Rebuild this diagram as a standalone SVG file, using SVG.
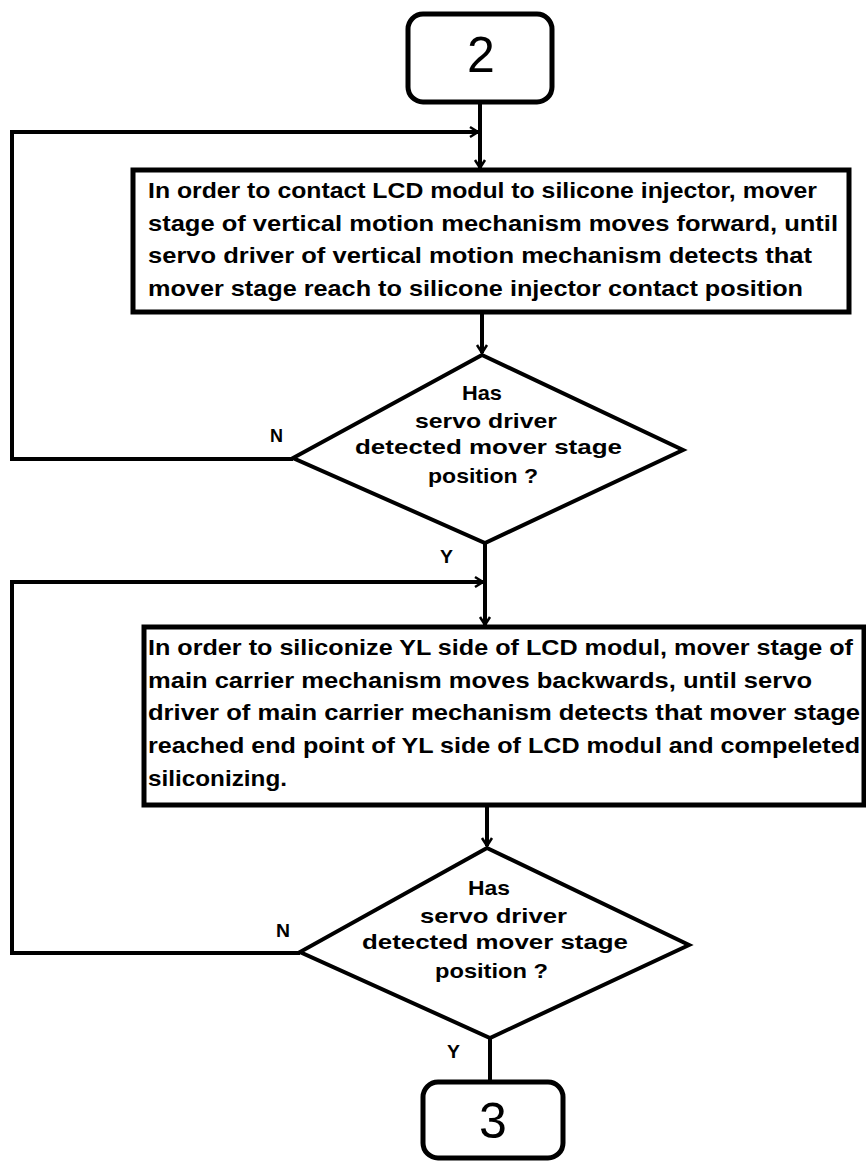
<svg xmlns="http://www.w3.org/2000/svg" width="866" height="1164" viewBox="0 0 866 1164">
<style>
.shape{fill:#fff;stroke:#000;stroke-width:5}
.dia{fill:#fff;stroke:#000;stroke-width:4;stroke-linejoin:miter}
.conn{fill:none;stroke:#000;stroke-width:4}
.t{font-family:"Liberation Sans",Arial,sans-serif;font-weight:bold;font-size:22px;fill:#000}
.d{font-family:"Liberation Sans",Arial,sans-serif;font-weight:bold;font-size:21px;fill:#000}
.lbl{font-family:"Liberation Sans",Arial,sans-serif;font-weight:bold;font-size:19px;fill:#000}
.num{font-family:"Liberation Sans",Arial,sans-serif;font-size:50px;fill:#000;text-anchor:middle}
</style>
<defs>
<marker id="arr" markerWidth="14" markerHeight="14" refX="11" refY="7" orient="auto" markerUnits="userSpaceOnUse">
<polyline points="3,2 11,7 3,12" fill="none" stroke="#000" stroke-width="2.5"/>
</marker>
</defs>
<g id="connectors">
<line class="conn" x1="480" y1="102" x2="480" y2="168" marker-end="url(#arr)"/>
<polyline class="conn" points="293,459 12,459 12,132 478,132" marker-end="url(#arr)"/>
<line class="conn" x1="482" y1="312" x2="482" y2="353" marker-end="url(#arr)"/>
<line class="conn" x1="485" y1="543" x2="485" y2="625" marker-end="url(#arr)"/>
<polyline class="conn" points="300,953 12,953 12,582 483,582" marker-end="url(#arr)"/>
<line class="conn" x1="487" y1="805" x2="487" y2="846" marker-end="url(#arr)"/>
<line class="conn" x1="490" y1="1038" x2="490" y2="1082"/>
</g>
<g id="start2">
<rect class="shape" x="408" y="14" width="144" height="88" rx="15"/>
<text class="num" x="481" y="72">2</text>
</g>
<g id="box1">
<rect class="shape" x="133" y="170" width="716" height="142"/>
<text class="t" x="148" y="198" textLength="669" lengthAdjust="spacingAndGlyphs">In order to contact LCD modul to silicone injector, mover</text>
<text class="t" x="148" y="231" textLength="690" lengthAdjust="spacingAndGlyphs">stage of vertical motion mechanism moves forward, until</text>
<text class="t" x="148" y="263" textLength="664" lengthAdjust="spacingAndGlyphs">servo driver of vertical motion mechanism detects that</text>
<text class="t" x="148" y="296" textLength="655" lengthAdjust="spacingAndGlyphs">mover stage reach to silicone injector contact position</text>
</g>
<g id="decision1">
<polygon class="dia" points="482,355 683,450 485,543 293,458"/>
<text class="d" x="462" y="400" textLength="40" lengthAdjust="spacingAndGlyphs">Has</text>
<text class="d" x="415" y="428" textLength="142" lengthAdjust="spacingAndGlyphs">servo driver</text>
<text class="d" x="355" y="454" textLength="267" lengthAdjust="spacingAndGlyphs">detected mover stage</text>
<text class="d" x="428" y="483" textLength="110" lengthAdjust="spacingAndGlyphs">position ?</text>
<text class="lbl" x="270" y="442" textLength="13" lengthAdjust="spacingAndGlyphs">N</text>
<text class="lbl" x="440" y="563" textLength="13" lengthAdjust="spacingAndGlyphs">Y</text>
</g>
<g id="box2">
<rect class="shape" x="144" y="627" width="720" height="178"/>
<text class="t" x="148" y="655" textLength="705" lengthAdjust="spacingAndGlyphs">In order to siliconize YL side of LCD modul, mover stage of</text>
<text class="t" x="148" y="688" textLength="664" lengthAdjust="spacingAndGlyphs">main carrier mechanism moves backwards, until servo</text>
<text class="t" x="148" y="720" textLength="712" lengthAdjust="spacingAndGlyphs">driver of main carrier mechanism detects that mover stage</text>
<text class="t" x="148" y="753" textLength="712" lengthAdjust="spacingAndGlyphs">reached end point of YL side of LCD modul and compeleted</text>
<text class="t" x="148" y="786" textLength="139" lengthAdjust="spacingAndGlyphs">siliconizing.</text>
</g>
<g id="decision2">
<polygon class="dia" points="487,848 689,945 490,1038 300,952"/>
<text class="d" x="468" y="895" textLength="42" lengthAdjust="spacingAndGlyphs">Has</text>
<text class="d" x="420" y="923" textLength="147" lengthAdjust="spacingAndGlyphs">servo driver</text>
<text class="d" x="362" y="949" textLength="266" lengthAdjust="spacingAndGlyphs">detected mover stage</text>
<text class="d" x="435" y="978" textLength="113" lengthAdjust="spacingAndGlyphs">position ?</text>
<text class="lbl" x="276" y="937" textLength="14" lengthAdjust="spacingAndGlyphs">N</text>
<text class="lbl" x="447" y="1058" textLength="13" lengthAdjust="spacingAndGlyphs">Y</text>
</g>
<g id="end3">
<rect class="shape" x="423" y="1082" width="140" height="76" rx="15"/>
<text class="num" x="493" y="1138">3</text>
</g>
</svg>
